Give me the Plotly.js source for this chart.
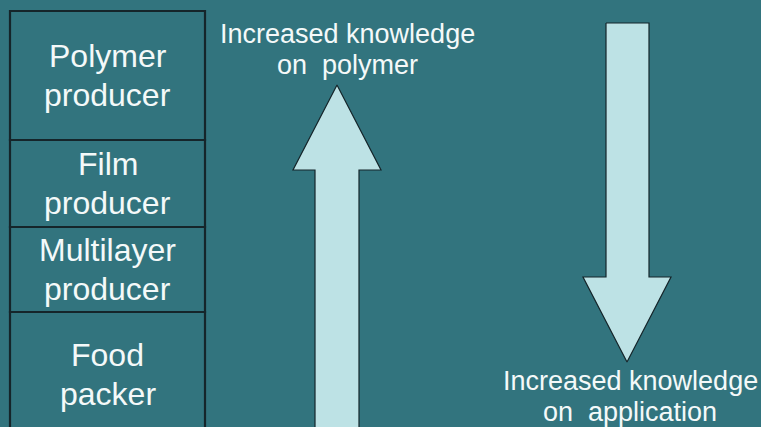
<!DOCTYPE html>
<html>
<head>
<meta charset="utf-8">
<script src="https://cdn.plot.ly/plotly-3.0.1.min.js"></script>
<style>html,body{margin:0;padding:0;background:#32747E;}#chart{width:761px;height:427px;}</style>
</head>
<body>
<div id="chart"></div>
<script>
// ---- data ----
const layerLabels = [["Polymer", "producer"], ["Film", "producer"], ["Multilayer", "producer"], ["Food", "packer"]];
const layerEdges = [11, 140, 227, 312, 436];
const upArrowLabel = ["Increased knowledge", "on\u00a0\u00a0polymer"];
const downArrowLabel = ["Increased knowledge", "on\u00a0\u00a0application"];

// ---- geometry / style ----
const BG = "#32747E", FILL = "#BDE2E5", EDGE = "#15252a", TXT = "#F4F9F9";
const box = {x0: 10, x1: 205};
const up = {tipX: 337, tipY: 85, headY: 170, headL: 293, headR: 381, shaftL: 315, shaftR: 359, end: 440};
const down = {tipX: 627, tipY: 362, headY: 277, headL: 583, headR: 671, shaftL: 606, shaftR: 649, end: 23};

function arrowPath(a) {
  return {
    x: [a.shaftL, a.shaftL, a.headL, a.tipX, a.headR, a.shaftR, a.shaftR, a.shaftL],
    y: [a.end, a.headY, a.headY, a.tipY, a.headY, a.headY, a.end, a.end]
  };
}
const traces = [up, down].map(a => {
  const p = arrowPath(a);
  return {x: p.x, y: p.y, mode: "lines", fill: "toself", fillcolor: FILL,
          line: {color: EDGE, width: 1.2}, hoverinfo: "skip", showlegend: false};
});

const shapes = [];
const annotations = [];
const FAMILY = "Arial";
const font = (s) => ({family: FAMILY, size: s, color: TXT});

layerLabels.forEach((lines, i) => {
  const y0 = layerEdges[i], y1 = layerEdges[i + 1];
  shapes.push({type: "rect", xref: "x", yref: "y", x0: box.x0, x1: box.x1, y0: y0, y1: y1,
               line: {color: EDGE, width: 2.2}, fillcolor: "rgba(0,0,0,0)"});
  const c = (y0 + y1) / 2, gap = 39;
  lines.forEach((t, j) => {
    annotations.push({x: (box.x0 + box.x1) / 2, y: c + (j - (lines.length - 1) / 2) * gap,
      xref: "x", yref: "y", text: t, showarrow: false, xanchor: "center", yanchor: "middle", font: font(32)});
  });
});

function addLabel(lines, cx, cy) {
  const gap = 31;
  lines.forEach((t, j) => {
    annotations.push({x: cx, y: cy + (j - (lines.length - 1) / 2) * gap, xref: "x", yref: "y",
      text: t, showarrow: false, xanchor: "center", yanchor: "middle", font: font(27)});
  });
}
addLabel(upArrowLabel, 347, 49);
addLabel(downArrowLabel, 630, 396);

const layout = {
  width: 761, height: 427, margin: {l: 0, r: 0, t: 0, b: 0},
  paper_bgcolor: BG, plot_bgcolor: BG,
  xaxis: {range: [0, 761], visible: false, fixedrange: true},
  yaxis: {range: [427, 0], visible: false, fixedrange: true},
  shapes: shapes, annotations: annotations, showlegend: false
};
Plotly.newPlot("chart", traces, layout, {displayModeBar: false, staticPlot: true});
</script>
</body>
</html>
